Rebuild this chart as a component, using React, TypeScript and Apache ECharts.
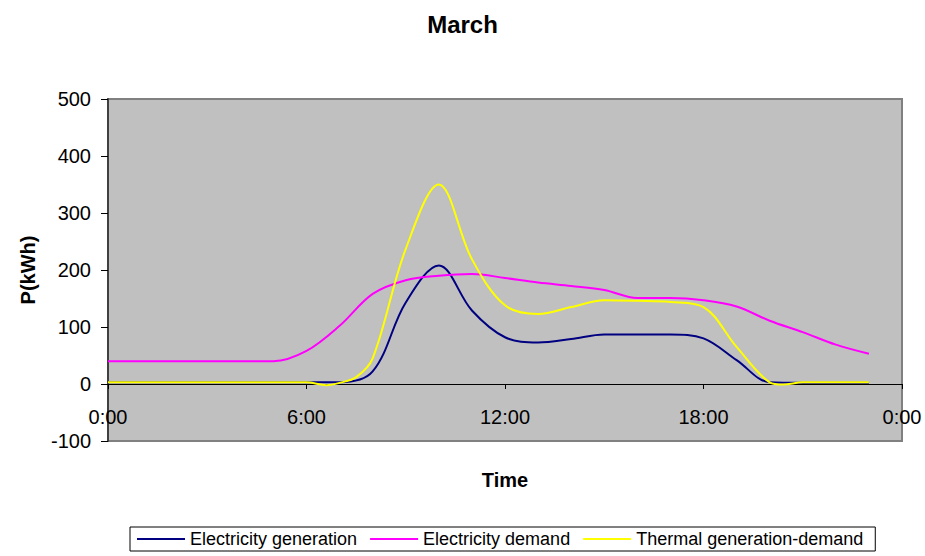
import React, { useEffect, useRef } from "react";
import * as echarts from "echarts";

const hours = [0, 1, 2, 3, 4, 5, 6, 7, 8, 9, 10, 11, 12, 13, 14, 15, 16, 17, 18, 19, 20, 21, 22, 23];
const generation = [3, 3, 3, 3, 3, 3, 3, 3, 22, 143, 208, 129, 82, 73, 79, 87, 87, 87, 80, 42, 3, 2, 2, 2];
const demand = [40, 40, 40, 40, 40, 40, 58, 102, 158, 182, 190, 193, 186, 178, 172, 165, 151, 151, 147, 136, 111, 91, 69, 53];
const thermalHours = [0, 1, 2, 3, 4, 5, 6, 6.6, 7, 7.5, 8, 9, 10, 11, 12, 13, 14, 15, 16, 17, 18, 19, 20, 20.4, 21, 22, 23];
const thermal = [3, 3, 3, 3, 3, 3, 3, -2, 2, 12, 45, 237, 350, 219, 138, 123, 135, 147, 146, 144, 135, 65, 3, -1, 3, 3, 3];

const seriesNames = ["Electricity generation", "Electricity demand", "Thermal generation-demand"];
const xTicks = ["0:00", "6:00", "12:00", "18:00", "0:00"];

const FONT = "'Liberation Sans', Arial, sans-serif";

export default function App() {
  const ref = useRef<HTMLDivElement>(null);
  useEffect(() => {
    if (!ref.current) return;
    const chart = echarts.init(ref.current, null, { renderer: "svg" });
    const pair = (xs: number[], ys: number[]) => xs.map((x, i) => [x, ys[i]]);
    chart.setOption({
      animation: false,
      backgroundColor: "#ffffff",
      title: {
        text: "March",
        left: "center",
        top: 7,
        textStyle: { fontSize: 24, fontWeight: "bold", color: "#000", fontFamily: FONT },
      },
      legend: {
        left: 130,
        top: 527,
        orient: "horizontal",
        padding: [3, 12, 3, 7],
        borderColor: "#000",
        borderWidth: 1,
        itemWidth: 48,
        itemHeight: 2,
        itemGap: 13,
        icon: "rect",
        textStyle: { fontSize: 18, color: "#000", fontFamily: FONT },
        data: seriesNames,
      },
      grid: {
        left: 108,
        right: 23,
        top: 99,
        bottom: 115,
        show: true,
        backgroundColor: "#C0C0C0",
        borderColor: "#808080",
        borderWidth: 2,
        containLabel: false,
        outerBoundsMode: "none",
      },
      xAxis: {
        type: "value",
        min: 0,
        max: 24,
        interval: 6,
        name: "Time",
        nameLocation: "middle",
        nameGap: 29,
        nameTextStyle: { fontSize: 20, fontWeight: "bold", color: "#000", fontFamily: FONT },
        axisLine: { show: true, onZero: true, lineStyle: { color: "#000", width: 1 } },
        axisTick: { show: true, inside: false, length: 5, lineStyle: { color: "#000" } },
        axisLabel: {
          margin: -34,
          fontSize: 20,
          color: "#000",
          fontFamily: FONT,
          formatter: (v: number) => xTicks[Math.round(v / 6)] ?? "",
        },
        splitLine: { show: false },
      },
      yAxis: {
        type: "value",
        min: -100,
        max: 500,
        interval: 100,
        name: "P(kWh)",
        nameLocation: "middle",
        nameGap: 70,
        nameRotate: 90,
        nameTextStyle: { fontSize: 20, fontWeight: "bold", color: "#000", fontFamily: FONT },
        axisLine: { show: true, lineStyle: { color: "#404040", width: 2 } },
        axisTick: { show: true, inside: false, length: 7, lineStyle: { color: "#000" } },
        axisLabel: { margin: 17, fontSize: 20, color: "#000", fontFamily: FONT },
        splitLine: { show: false },
      },
      series: [
        {
          name: seriesNames[0],
          type: "line",
          data: pair(hours, generation),
          smooth: 0.35,
          showSymbol: false,
          lineStyle: { color: "#000080", width: 2 },
          itemStyle: { color: "#000080" },
        },
        {
          name: seriesNames[1],
          type: "line",
          data: pair(hours, demand),
          smooth: 0.35,
          showSymbol: false,
          lineStyle: { color: "#FF00FF", width: 2 },
          itemStyle: { color: "#FF00FF" },
        },
        {
          name: seriesNames[2],
          type: "line",
          data: pair(thermalHours, thermal),
          smooth: 0.35,
          showSymbol: false,
          lineStyle: { color: "#FFFF00", width: 2 },
          itemStyle: { color: "#FFFF00" },
        },
      ],
    });
    return () => chart.dispose();
  }, []);
  return (
    <div
      ref={ref}
      style={{ position: "fixed", left: 0, top: 0, width: 925, height: 556 }}
    />
  );
}
